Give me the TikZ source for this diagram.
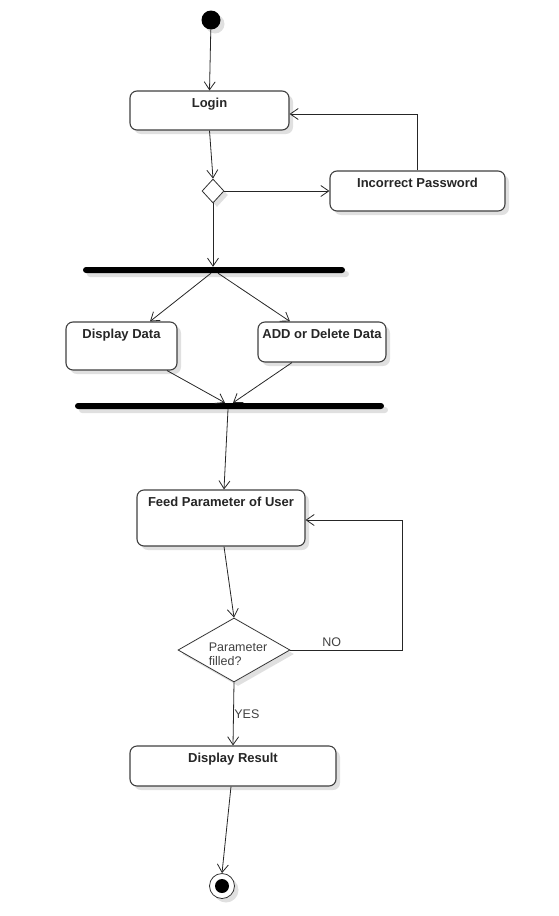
\documentclass[tikz,border=0pt]{standalone}
\usepackage{fontspec}
\setmainfont{Liberation Sans}
\usetikzlibrary{calc,shapes.geometric,arrows.meta,shadows}

\begin{document}
\begin{tikzpicture}[x=1pt,y=-1pt,
  >={Straight Barb[length=8pt,width=11pt]},
  flow/.style={->,line width=0.8pt,draw=black!85},
  shade/.style={drop shadow={shadow xshift=4pt,shadow yshift=-4pt,fill=black!12,opacity=1}},
  act/.style={draw=black!75,line width=1.1pt,rounded corners=7pt,fill=white,shade},
  acttext/.style={anchor=base,yshift=-17.5pt,inner sep=0pt,text=black!85,font=\fontsize{13}{15}\selectfont\bfseries},
  bar/.style={fill=black,rounded corners=3pt,minimum height=6pt,inner sep=0pt,shade},
  gate/.style={diamond,draw=black!80,line width=0.8pt,fill=white,inner sep=0pt,shade},
  guard/.style={text=black!75,font=\fontsize{12.5}{14}\selectfont}]

\useasboundingbox (0,0) rectangle (558,916);

\draw node [circle,fill=black,minimum size=19pt,inner sep=0pt,shade](start) at (211,20){};

\draw node [act,minimum width=159pt,minimum height=39pt,label={[acttext]north:Login}](login) at (209.5,110.5){};
\draw node [gate,minimum width=22pt,minimum height=24pt](check) at (213,191){};
\draw node [act,minimum width=175pt,minimum height=40pt,label={[acttext]north:Incorrect Password}](wrong) at (417.5,191){};

\draw node [bar,minimum width=262pt](fork) at (214,270){};
\draw node [act,minimum width=111pt,minimum height=48pt,label={[acttext]north:Display Data}](showdata) at (121.5,346){};
\draw node [act,minimum width=128pt,minimum height=40pt,label={[acttext]north:ADD or Delete Data}](editdata) at (322,342){};
\draw node [bar,minimum width=309pt](join) at (229.5,406){};

\draw node [act,minimum width=168pt,minimum height=56pt,label={[acttext]north:Feed Parameter of User}](feed) at (221,518){};
\draw node [gate,minimum width=112pt,minimum height=64pt,
  label={[guard,align=left,anchor=center,xshift=4pt,yshift=-4pt]center:Parameter\\filled?}](filled) at (234,650){};
\draw node [act,minimum width=206pt,minimum height=40pt,label={[acttext]north:Display Result}](result) at (233,766){};

\draw node [circle,draw=black!80,line width=0.8pt,fill=white,minimum size=25pt,inner sep=0pt,shade](stop) at (222,886){};
\draw node [circle,fill=black,minimum size=14pt,inner sep=0pt](stopdot) at (stop){};

% login and password check
\draw[flow] (start) -- (login.north);
\draw[flow] (login.south) -- (check.north);
\draw[flow] (check.east) -- (wrong.west);
\draw[flow] (wrong.north) |- ($ (login.east)+(0,3.5)$);
\draw[flow] (check.south) -- (check.south |- fork.north);

% fork and join
\draw[flow] ($ (fork.south)-(3,0)$) -- ($ (showdata.north)+(28.5,0)$);
\draw[flow] ($ (fork.south)+(4,0)$) -- ($ (editdata.north)-(32,0)$);
\draw[flow] ($ (showdata.south)+(45.5,0)$) -- ($ (join.north)-(4.5,0)$);
\draw[flow] ($ (editdata.south)-(30,0)$) -- ($ (join.north)+(3.5,0)$);
\draw[flow] ($ (join.south)-(1.5,0)$) -- ($ (feed.north)+(3,0)$);

% parameter loop
\draw[flow] ($ (feed.south)+(3,0)$) -- (filled.north);
\draw[flow] (filled.east) -- node[guard,above,pos=0.37]{NO} ++(112,0) |- ($ (feed.east)+(0,2)$);
\draw[flow] (filled.south) -- node[guard,right,inner sep=0.5pt]{YES} (result.north);
\draw[flow] ($ (result.south)-(2,0)$) -- (stop.north);

\end{tikzpicture}
\end{document}
